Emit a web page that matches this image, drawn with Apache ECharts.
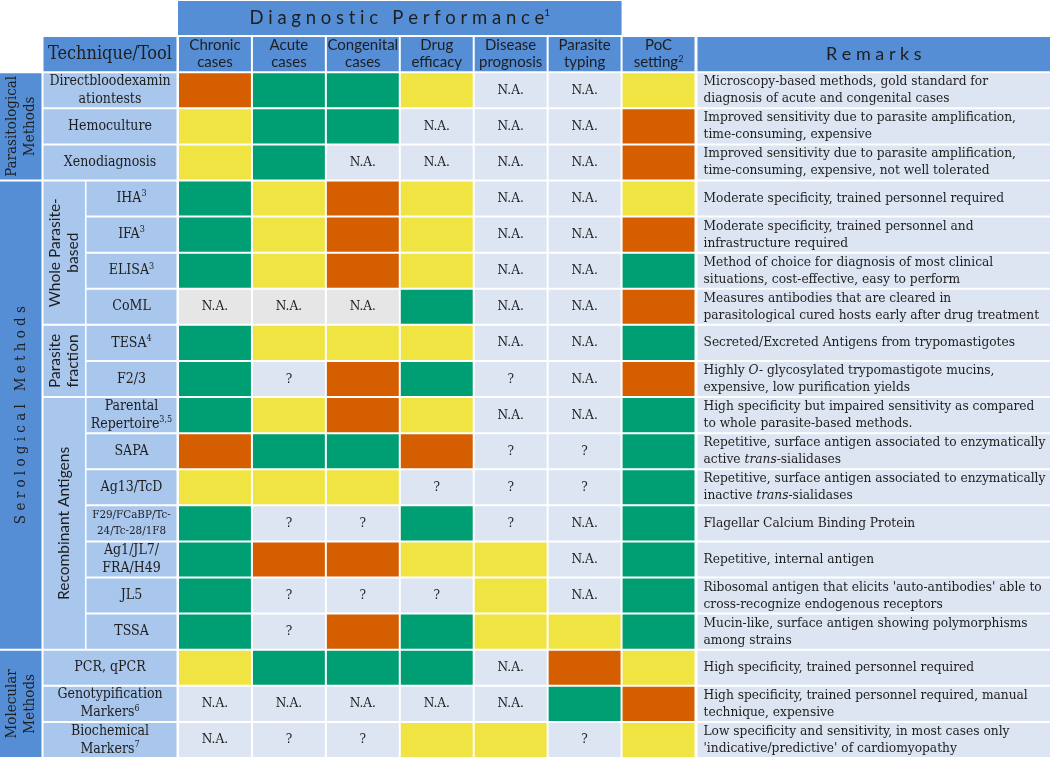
<!DOCTYPE html>
<html><head><meta charset="utf-8">
<script src="https://cdn.jsdelivr.net/npm/echarts@6/dist/echarts.min.js"></script>
<style>html,body{margin:0;padding:0;background:#fff}#c{width:1050px;height:758px}</style>
</head><body><div id="c"></div>
<script>
// ---------------- DATA ----------------
const titleText = 'D i a g n o s t i c   P e r f o r m a n c e{s|1}';
const columnHeaders = ['Chronic\ncases', 'Acute\ncases', 'Congenital\ncases', 'Drug\nefficacy', 'Disease\nprognosis', 'Parasite\ntyping', 'PoC\nsetting{s|2}'];
const toolHeader = 'Technique/Tool';
const remarksHeader = 'R e m a r k s';
const tools = [
  'Directbloodexamin\nationtests', 'Hemoculture', 'Xenodiagnosis',
  'IHA{s|3}', 'IFA{s|3}', 'ELISA{s|3}', 'CoML',
  'TESA{s|4}', 'F2/3',
  'Parental\nRepertoire{s|3,5}', 'SAPA', 'Ag13/TcD', 'F29/FCaBP/Tc-\n24/Tc-28/1F8', 'Ag1/JL7/\nFRA/H49', 'JL5', 'TSSA',
  'PCR, qPCR', 'Genotypification\nMarkers{s|6}', 'Biochemical\nMarkers{s|7}'
];
const methodGroups = ['Parasitological\nMethods', 'S e r o l o g i c a l   M e t h o d s', 'Molecular\nMethods'];
const methodGroupRows = [[0, 2], [3, 15], [16, 18]];
const subGroups = ['Whole Parasite-\nbased', 'Parasite\nfraction', 'Recombinant Antigens'];
const subGroupRows = [[3, 6], [7, 8], [9, 15]];
// G = good (green), Y = medium (yellow), O = poor (orange), N = N.A., Q = ?, X = N.A. (grey)
const chronic          = ['O','Y','Y','G','G','G','X','G','G','G','O','Y','G','G','G','G','Y','N','N'];
const acute            = ['G','G','G','Y','Y','Y','X','Y','Q','Y','G','Y','Q','O','Q','Q','G','N','Q'];
const congenital       = ['G','G','N','O','O','O','X','Y','O','O','G','Y','Q','O','Q','O','G','N','Q'];
const drugEfficacy     = ['Y','N','N','Y','Y','Y','G','Y','G','Y','O','Q','G','Y','Q','G','G','N','Y'];
const diseasePrognosis = ['N','N','N','N','N','N','N','N','Q','N','Q','Q','Q','Y','Y','Y','N','N','Y'];
const parasiteTyping   = ['N','N','N','N','N','N','N','N','N','N','Q','Q','N','N','N','Y','O','G','Q'];
const pocSetting       = ['Y','O','O','Y','O','G','O','G','O','G','G','G','G','G','G','G','Y','O','Y'];
const remarks = [
  'Microscopy-based methods, gold standard for\ndiagnosis of acute and congenital cases',
  'Improved sensitivity due to parasite amplification,\ntime-consuming, expensive',
  'Improved sensitivity due to parasite amplification,\ntime-consuming, expensive, not well tolerated',
  'Moderate specificity, trained personnel required',
  'Moderate specificity, trained personnel and\ninfrastructure required',
  'Method of choice for diagnosis of most clinical\nsituations, cost-effective, easy to perform',
  'Measures antibodies that are cleared in\nparasitological cured hosts early after drug treatment',
  'Secreted/Excreted Antigens from trypomastigotes',
  'Highly {i|O-} glycosylated trypomastigote mucins,\nexpensive, low purification yields',
  'High specificity but impaired sensitivity as compared\nto whole parasite-based methods.',
  'Repetitive, surface antigen associated to enzymatically\nactive {i|trans}-sialidases',
  'Repetitive, surface antigen associated to enzymatically\ninactive {i|trans}-sialidases',
  'Flagellar Calcium Binding Protein',
  'Repetitive, internal antigen',
  "Ribosomal antigen that elicits 'auto-antibodies' able to\ncross-recognize endogenous receptors",
  'Mucin-like, surface antigen showing polymorphisms\namong strains',
  'High specificity, trained personnel required',
  'High specificity, trained personnel required, manual\ntechnique, expensive',
  "Low specificity and sensitivity, in most cases only\n'indicative/predictive' of cardiomyopathy"
];

// ---------------- STYLE / LAYOUT ----------------
const columnsData = [chronic, acute, congenital, drugEfficacy, diseasePrognosis, parasiteTyping, pocSetting];
const codeStyle = {
  G: { fill: '#009E73', text: '' },
  Y: { fill: '#F0E442', text: '' },
  O: { fill: '#D55E00', text: '' },
  N: { fill: '#DCE5F1', text: 'N.A.' },
  Q: { fill: '#DCE5F1', text: '?' },
  X: { fill: '#E6E6E6', text: 'N.A.' }
};
const HEAD_BLUE = '#568ED6';
const LIGHT_BLUE = '#A9C6EC';
const PALE = '#DCE5F1';
const INK = '#1E1E1E';
const SERIF = '"DejaVu Serif Condensed", "Liberation Serif", serif';
const SANS = 'Lato, "Open Sans", sans-serif';
const X = { grp: [0, 41.5], sub: [43.5, 85], tool: [86.5, 176.5], toolWide: [43.5, 176.5], data0: 178, data1: 695.5, rem: [697.5, 1050] };
const colW = (X.data1 - X.data0) / 7;
const HDR = 2; // number of header bands on the y axis
const yCats = ['h0', 'h1'].concat(tools.map((t, i) => 'r' + i));
const supRich = (fs, fam, mainFs) => ({
  s: { fontSize: fs, fontFamily: fam, fill: INK, verticalAlign: 'top', lineHeight: fs + 1 },
  i: { fontStyle: 'italic', fontSize: mainFs, fontFamily: fam, fill: INK }
});

function px(api, x) { return api.coord([x, 0])[0]; }
function band(api, r0, r1) {
  const h = api.size([0, 1])[1];
  return [api.coord([0, r0])[1] - h / 2, api.coord([0, r1])[1] + h / 2];
}
function box(api, xr, r0, r1, fill) {
  const x0 = px(api, xr[0]), x1 = px(api, xr[1]);
  const [y0, y1] = band(api, r0, r1);
  return { type: 'rect', shape: { x: x0, y: y0 + 1, width: x1 - x0, height: y1 - y0 - 2 }, style: { fill: fill } };
}
function label(api, xr, r0, r1, text, opt) {
  const x0 = px(api, xr[0]), x1 = px(api, xr[1]);
  const [y0, y1] = band(api, r0, r1);
  const o = opt || {};
  const left = o.align === 'left';
  const fs = o.fs || 15, fam = o.fam || SERIF;
  return {
    type: 'text',
    x: left ? x0 + (o.pad || 6) : (x0 + x1) / 2,
    y: (y0 + y1) / 2,
    rotation: o.rotate ? Math.PI / 2 : 0,
    style: {
      text: text, fill: INK, align: left ? 'left' : 'center', verticalAlign: 'middle',
      fontSize: fs, fontFamily: fam, lineHeight: o.lh || 18,
      rich: supRich(o.sfs || 9, fam, fs)
    }
  };
}
function custom(name, data, render) {
  return { type: 'custom', name: name, data: data, renderItem: render, silent: true, clip: false };
}

const series = [];
series.push(custom('title', [[0, 0]], (p, api) => ({
  type: 'group', children: [
    box(api, [X.data0, X.data0 + colW * 6], 0, 0, HEAD_BLUE),
    label(api, [X.data0, X.data0 + colW * 6], 0, 0, titleText, { fam: SANS, fs: 18.5, lh: 20, sfs: 10 })
  ]
})));
series.push(custom('colHeaders', columnHeaders.map((h, i) => [i, 1]), (p, api) => {
  const i = p.dataIndex, xr = [X.data0 + i * colW + 1, X.data0 + (i + 1) * colW - 1];
  return { type: 'group', children: [box(api, xr, 1, 1, HEAD_BLUE), label(api, xr, 1, 1, columnHeaders[i], { fam: SANS, fs: 15, lh: 17, sfs: 9 })] };
}));
series.push(custom('toolHeader', [[0, 1]], (p, api) => ({
  type: 'group', children: [box(api, X.toolWide, 1, 1, HEAD_BLUE), label(api, X.toolWide, 1, 1, toolHeader, { fs: 18 })]
})));
series.push(custom('remarksHeader', [[0, 1]], (p, api) => ({
  type: 'group', children: [box(api, X.rem, 1, 1, HEAD_BLUE), label(api, X.rem, 1, 1, remarksHeader, { fam: SANS, fs: 18 })]
})));
series.push(custom('groups', methodGroups.map((g, i) => [0, methodGroupRows[i][0] + HDR]), (p, api) => {
  const i = p.dataIndex, r0 = methodGroupRows[i][0] + HDR, r1 = methodGroupRows[i][1] + HDR;
  return { type: 'group', children: [box(api, X.grp, r0, r1, HEAD_BLUE), label(api, X.grp, r0, r1, methodGroups[i], { rotate: true, fs: 15, lh: 18 })] };
}));
series.push(custom('subGroups', subGroups.map((g, i) => [0, subGroupRows[i][0] + HDR]), (p, api) => {
  const i = p.dataIndex, r0 = subGroupRows[i][0] + HDR, r1 = subGroupRows[i][1] + HDR;
  return { type: 'group', children: [box(api, X.sub, r0, r1, LIGHT_BLUE), label(api, X.sub, r0, r1, subGroups[i], { rotate: true, fam: SANS, fs: 15.5, lh: 18 })] };
}));
series.push(custom('tools', tools.map((t, i) => [0, i + HDR]), (p, api) => {
  const i = p.dataIndex, r = i + HDR;
  const inSub = subGroupRows.some(s => i >= s[0] && i <= s[1]);
  const xr = inSub ? X.tool : X.toolWide;
  const small = i === 12;
  return { type: 'group', children: [box(api, xr, r, r, LIGHT_BLUE), label(api, xr, r, r, tools[i], { fs: small ? 11.5 : 14, lh: small ? 16 : 18, sfs: 9 })] };
}));
const cellData = [];
columnsData.forEach((col, c) => col.forEach((code, r) => cellData.push([c, r + HDR])));
series.push(custom('cells', cellData, (p, api) => {
  const c = api.value(0), r = api.value(1);
  const st = codeStyle[columnsData[c][r - HDR]];
  const xr = [X.data0 + c * colW + 1, X.data0 + (c + 1) * colW - 1];
  const kids = [box(api, xr, r, r, st.fill)];
  if (st.text) kids.push(label(api, xr, r, r, st.text, { fs: 13.5 }));
  return { type: 'group', children: kids };
}));
series.push(custom('remarks', remarks.map((t, i) => [0, i + HDR]), (p, api) => {
  const i = p.dataIndex, r = i + HDR;
  return { type: 'group', children: [box(api, X.rem, r, r, PALE), label(api, X.rem, r, r, remarks[i], { align: 'left', pad: 6, fs: 13.6, lh: 17 })] };
}));

const chart = echarts.init(document.getElementById('c'), null, { renderer: 'canvas' });
chart.setOption({
  animation: false,
  backgroundColor: '#ffffff',
  grid: { left: 0, right: 0, top: 0, bottom: 0 },
  xAxis: { type: 'value', min: 0, max: 1050, show: false },
  yAxis: { type: 'category', data: yCats, inverse: true, show: false },
  series: series
});
</script>
</body></html>
